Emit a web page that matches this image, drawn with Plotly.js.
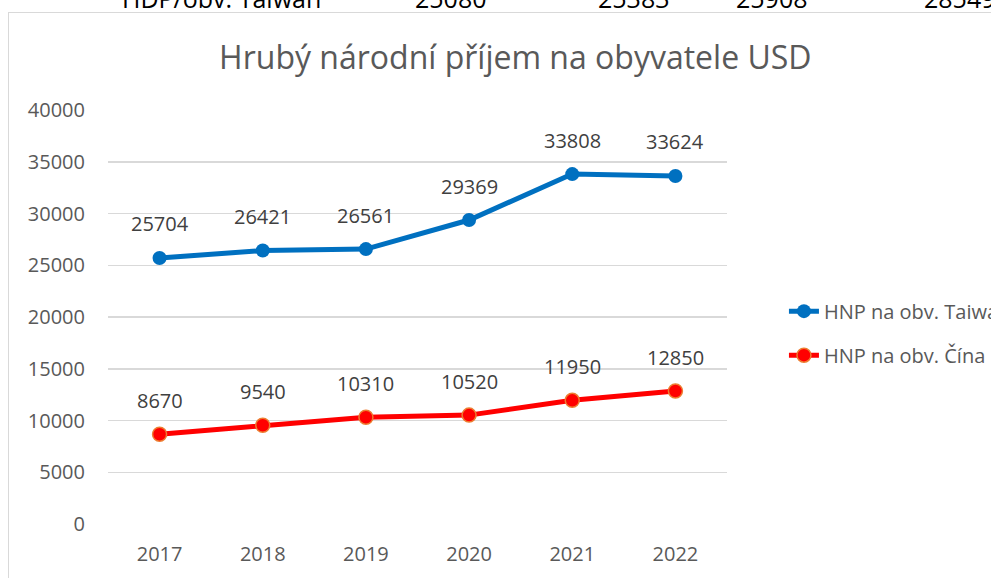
<!DOCTYPE html>
<html><head><meta charset="utf-8">
<script src="https://cdn.plot.ly/plotly-3.0.1.min.js"></script>
<style>
html,body{margin:0;padding:0;width:991px;height:578px;overflow:hidden;background:#fff;font-family:"Open Sans",sans-serif;}
#frame{position:absolute;left:8px;top:12px;width:1200px;height:800px;border:1.5px solid #d9d9d9;box-sizing:border-box;}
#chart{position:absolute;left:0;top:0;width:991px;height:578px;}
.top{position:absolute;top:-19px;font-size:25px;color:#000;white-space:nowrap;}
</style></head>
<body>
<div id="frame"></div>
<div id="chart"></div>
<div class="top" style="left:122px">HDP/obv. Taiwan</div>
<div class="top" style="left:415px">25080</div>
<div class="top" style="left:598px">25383</div>
<div class="top" style="left:736px">25908</div>
<div class="top" style="left:924px">28549</div>
<script>
const years = ["2017","2018","2019","2020","2021","2022"];
const taiwan = [25704, 26421, 26561, 29369, 33808, 33624];
const china = [8670, 9540, 10310, 10520, 11950, 12850];
const nameTaiwan = "HNP na obv. Taiwan";
const nameChina = "HNP na obv. Čína";
const titleText = "Hrubý národní příjem na obyvatele USD";

const font = "Open Sans, sans-serif";
const traces = [
  {x: years, y: taiwan, name: nameTaiwan, mode: "lines+markers", legendgroup: "a",
   line: {color: "#0070C0", width: 5}, marker: {size: 14, color: "#0070C0"}},
  {x: years, y: china, name: nameChina, mode: "lines+markers", legendgroup: "b",
   line: {color: "#FF0000", width: 5}, marker: {size: 14, color: "#FF0000", line: {color: "#ED7D31", width: 1.5}}}
];
const ann = [];
[taiwan, china].forEach(arr => arr.forEach((v, i) => ann.push({
  x: i, y: v, xref: "x", yref: "y", text: String(v), showarrow: false, yshift: 34,
  font: {family: font, size: 20, color: "#404040"}
})));
const layout = {
  width: 991, height: 578,
  margin: {l: 108, r: 264, t: 110, b: 54, autoexpand: false},
  paper_bgcolor: "rgba(0,0,0,0)", plot_bgcolor: "rgba(0,0,0,0)",
  title: {text: titleText, x: 0.52, xanchor: "center", y: 0.9, yanchor: "middle",
          font: {family: font, size: 32, color: "#595959"}},
  xaxis: {type: "category", categoryarray: years, range: [-0.5, years.length - 0.5], autorange: false,
          showgrid: false, zeroline: false, showline: false, ticks: "",
          tickfont: {family: font, size: 20, color: "#595959"}, ticklabelstandoff: 16, fixedrange: true},
  yaxis: {range: [0, 40000], autorange: false, dtick: 5000, showgrid: true, gridcolor: "#d9d9d9", gridwidth: 1.5,
          zeroline: false, showline: false, ticks: "", tickformat: "d",
          tickfont: {family: font, size: 20, color: "#595959"}, ticklabelstandoff: 22},
  showlegend: true,
  legend: {x: 1.092, xanchor: "left", y: 0.461, yanchor: "middle", tracegroupgap: 15,
           font: {family: font, size: 20, color: "#595959"}, bgcolor: "rgba(0,0,0,0)"},
  annotations: ann
};
Plotly.newPlot("chart", traces, layout, {displayModeBar: false, staticPlot: true});
</script>
</body></html>
